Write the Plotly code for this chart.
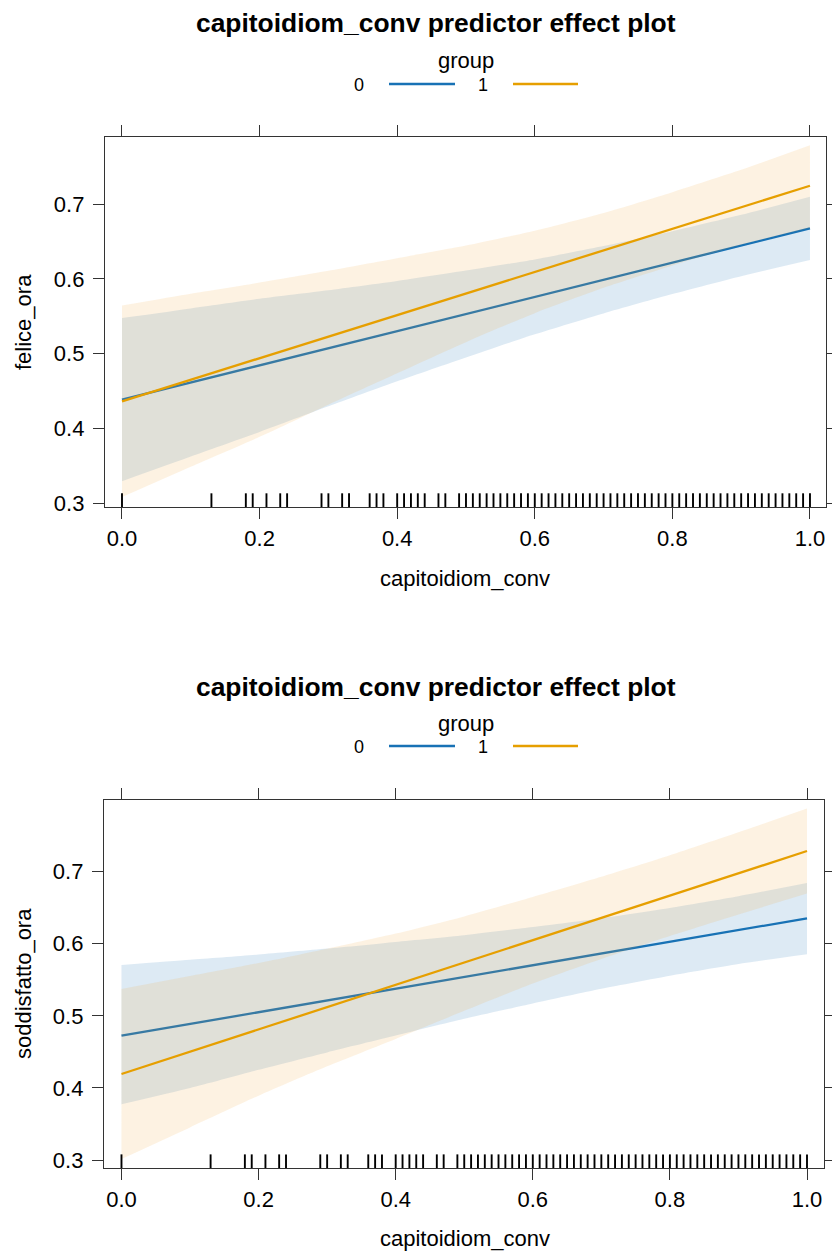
import plotly.graph_objects as go

# ---------------- data ----------------
x_grid = [0.0, 0.1, 0.2, 0.3, 0.4, 0.5, 0.6, 0.7, 0.8, 0.9, 1.0]

# Panel 1: felice_ora
felice_g0_fit = [0.4387, 0.4616, 0.4845, 0.5073, 0.5302, 0.5531, 0.5760, 0.5989, 0.6217, 0.6446, 0.6675]
felice_g0_lo = [0.3297, 0.3626, 0.3955, 0.4298, 0.4632, 0.4951, 0.5260, 0.5539, 0.5797, 0.6036, 0.6252]
felice_g0_hi = [0.5477, 0.5606, 0.5735, 0.5848, 0.5972, 0.6111, 0.6260, 0.6439, 0.6637, 0.6856, 0.7098]
felice_g1_fit = [0.4365, 0.4653, 0.4941, 0.5229, 0.5517, 0.5805, 0.6093, 0.6381, 0.6669, 0.6957, 0.7245]
felice_g1_lo = [0.3085, 0.3490, 0.3890, 0.4320, 0.4740, 0.5155, 0.5543, 0.5881, 0.6179, 0.6457, 0.6680]
felice_g1_hi = [0.5645, 0.5803, 0.5951, 0.6109, 0.6277, 0.6445, 0.6643, 0.6881, 0.7159, 0.7457, 0.7785]

# Panel 2: soddisfatto_ora
sodd_g0_fit = [0.4725, 0.4888, 0.5051, 0.5213, 0.5376, 0.5539, 0.5702, 0.5865, 0.6027, 0.6190, 0.6353]
sodd_g0_lo = [0.3772, 0.3998, 0.4251, 0.4493, 0.4726, 0.4959, 0.5172, 0.5375, 0.5557, 0.5720, 0.5854]
sodd_g0_hi = [0.5706, 0.5778, 0.5851, 0.5933, 0.6026, 0.6119, 0.6232, 0.6355, 0.6497, 0.6660, 0.6843]
sodd_g1_fit = [0.4193, 0.4502, 0.4812, 0.5121, 0.5431, 0.5740, 0.6049, 0.6359, 0.6668, 0.6977, 0.7287]
sodd_g1_lo = [0.3013, 0.3452, 0.3892, 0.4300, 0.4680, 0.5070, 0.5449, 0.5789, 0.6108, 0.6407, 0.6697]
sodd_g1_hi = [0.5373, 0.5552, 0.5732, 0.5931, 0.6141, 0.6380, 0.6649, 0.6929, 0.7228, 0.7547, 0.7877]

# rug of observed capitoidiom_conv values
rug_values = [0.0, 0.13, 0.18, 0.19, 0.21, 0.23, 0.24, 0.29, 0.30, 0.32, 0.33,
              0.36, 0.37, 0.38, 0.40, 0.41, 0.42, 0.43, 0.44, 0.46, 0.47, 0.49,
              0.50, 0.51, 0.52, 0.53, 0.54, 0.55, 0.56, 0.57, 0.58, 0.59, 0.60,
              0.61, 0.62, 0.63, 0.64, 0.65, 0.66, 0.67, 0.68, 0.69, 0.70, 0.71,
              0.72, 0.73, 0.74, 0.75, 0.76, 0.77, 0.78, 0.79, 0.80, 0.81, 0.82,
              0.83, 0.84, 0.85, 0.86, 0.87, 0.88, 0.89, 0.90, 0.91, 0.92, 0.93,
              0.94, 0.95, 0.96, 0.97, 0.98, 0.99, 1.0]

x_ticks = [0.0, 0.2, 0.4, 0.6, 0.8, 1.0]
y_ticks = [0.3, 0.4, 0.5, 0.6, 0.7]
group_labels = ["0", "1"]
title_text = "capitoidiom_conv predictor effect plot"
x_title = "capitoidiom_conv"
y_titles = ["felice_ora", "soddisfatto_ora"]

# ---------------- style ----------------
W, H = 832, 1253
FONT = "Liberation Sans, Arial, Helvetica, sans-serif"
BLUE = "#1872B5"
ORANGE = "#E69F00"
BLUE_FILL = "rgba(24,114,181,0.15)"
ORANGE_FILL = "rgba(240,170,60,0.15)"
AXCOL = "#333333"

panels = [
    dict(fits=(felice_g0_fit, felice_g1_fit), los=(felice_g0_lo, felice_g1_lo),
         his=(felice_g0_hi, felice_g1_hi), box=(105, 826, 137, 507),
         xr=[-0.0247, 1.0233], yr=[0.2953, 0.7896],
         title_y=23, group_y=61, entry_y=85, xtitle_y=578),
    dict(fits=(sodd_g0_fit, sodd_g1_fit), los=(sodd_g0_lo, sodd_g1_lo),
         his=(sodd_g0_hi, sodd_g1_hi), box=(104, 824, 800, 1168),
         xr=[-0.0255, 1.0248], yr=[0.2889, 0.7995],
         title_y=687, group_y=723, entry_y=747, xtitle_y=1238),
]

fig = go.Figure()
annotations = []
shapes = []

for i, p in enumerate(panels):
    n = "" if i == 0 else str(i + 1)
    xa, ya = "x" + n, "y" + n
    colors = (BLUE, ORANGE)
    fills = (BLUE_FILL, ORANGE_FILL)
    for g in range(2):
        fig.add_trace(go.Scatter(x=x_grid, y=p["los"][g], mode="lines",
                                 line=dict(width=0, color=colors[g], shape="spline", smoothing=0.6),
                                 xaxis=xa, yaxis=ya, showlegend=False, hoverinfo="skip"))
        fig.add_trace(go.Scatter(x=x_grid, y=p["his"][g], mode="lines",
                                 line=dict(width=0, color=colors[g], shape="spline", smoothing=0.6),
                                 fill="tonexty", fillcolor=fills[g],
                                 xaxis=xa, yaxis=ya, showlegend=False, hoverinfo="skip"))
        fig.add_trace(go.Scatter(x=x_grid, y=p["fits"][g], mode="lines",
                                 line=dict(width=2.3, color=colors[g]),
                                 xaxis=xa, yaxis=ya, showlegend=False,
                                 name=group_labels[g]))
    # rug
    y0 = p["yr"][0]
    y1 = y0 + 0.037 * (p["yr"][1] - p["yr"][0])
    rx, ry = [], []
    for v in rug_values:
        rx += [v, v, None]
        ry += [y0, y1, None]
    fig.add_trace(go.Scatter(x=rx, y=ry, mode="lines", line=dict(color="black", width=1.9),
                             xaxis=xa, yaxis=ya, showlegend=False, hoverinfo="skip"))

    l, r, t, b = p["box"]
    axis_common = dict(showline=True, linecolor=AXCOL, linewidth=1.3, mirror="ticks",
                       ticks="outside", ticklen=11, tickwidth=1.3, tickcolor=AXCOL,
                       showgrid=False, zeroline=False,
                       tickfont=dict(family=FONT, size=22, color="black"),
                       tickformat=".1f", fixedrange=True)
    fig.update_layout(**{
        "xaxis" + n: dict(domain=[l / W, r / W], range=p["xr"], tickvals=x_ticks,
                          anchor=ya, **axis_common),
        "yaxis" + n: dict(domain=[1 - b / H, 1 - t / H], range=p["yr"], tickvals=y_ticks,
                          anchor=xa, ticklabelstandoff=4, **axis_common),
    })

    # titles
    annotations.append(dict(text="<b>" + title_text + "</b>", x=436 / W, y=1 - p["title_y"] / H,
                            xref="paper", yref="paper", showarrow=False,
                            font=dict(family=FONT, size=26.4, color="black"),
                            xanchor="center", yanchor="middle"))
    annotations.append(dict(text=x_title, x=465 / W, y=1 - p["xtitle_y"] / H,
                            xref="paper", yref="paper", showarrow=False,
                            font=dict(family=FONT, size=22, color="black"),
                            xanchor="center", yanchor="middle"))
    annotations.append(dict(text=y_titles[i], x=23 / W, y=1 - (t + b) / 2 / H,
                            xref="paper", yref="paper", showarrow=False, textangle=-90,
                            font=dict(family=FONT, size=22, color="black"),
                            xanchor="center", yanchor="middle"))
    # legend (lattice key style)
    annotations.append(dict(text="group", x=466 / W, y=1 - p["group_y"] / H,
                            xref="paper", yref="paper", showarrow=False,
                            font=dict(family=FONT, size=22, color="black"),
                            xanchor="center", yanchor="middle"))
    key = [(359, 389, 455, BLUE), (483, 513, 578, ORANGE)]
    for g, (tx, lx0, lx1, col) in enumerate(key):
        annotations.append(dict(text=group_labels[g], x=tx / W, y=1 - p["entry_y"] / H,
                                xref="paper", yref="paper", showarrow=False,
                                font=dict(family=FONT, size=18, color="black"),
                                xanchor="center", yanchor="middle"))
        shapes.append(dict(type="line", xref="paper", yref="paper",
                           x0=lx0 / W, x1=lx1 / W,
                           y0=1 - (p["entry_y"] - 1) / H, y1=1 - (p["entry_y"] - 1) / H,
                           line=dict(color=col, width=2.6)))

fig.update_layout(width=W, height=H, template="none", showlegend=False,
                  margin=dict(l=0, r=0, t=0, b=0),
                  paper_bgcolor="white", plot_bgcolor="white",
                  annotations=annotations, shapes=shapes,
                  font=dict(family=FONT, color="black"))

fig.write_html("out.html", config={"displayModeBar": False},
               post_script="document.body.style.margin='0';document.body.style.overflow='hidden';")
